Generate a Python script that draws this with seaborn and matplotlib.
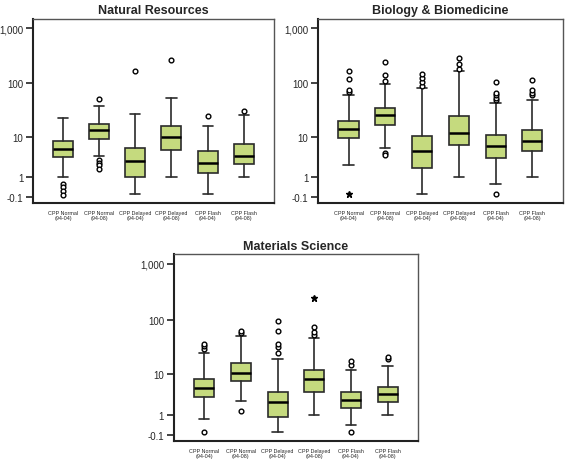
import numpy as np
import matplotlib
matplotlib.use('Agg')
import matplotlib.pyplot as plt
import seaborn as sns

# --- data (values on the original, untransformed scale) ---
categories = ['CPP Normal\n(94-04)', 'CPP Normal\n(94-08)', 'CPP Delayed\n(94-04)',
              'CPP Delayed\n(94-08)', 'CPP Flash\n(94-04)', 'CPP Flash\n(94-08)']

tick_values = [-0.1, 1, 10, 100, 1000]
tick_labels = ['-0.1', '1', '10', '100', '1,000']

# Natural Resources
nr_whislo = [1.0, 3.8, 0.0, 1.0, 0.0, 1.0]
nr_q1 = [3.7, 8.9, 1.0, 5.2, 1.45, 2.5]
nr_med = [5.6, 13.7, 3.0, 9.7, 2.7, 4.0]
nr_q3 = [8.0, 17.6, 5.7, 15.8, 5.0, 7.1]
nr_whishi = [22.5, 38, 27.5, 54, 16.3, 26.4]
nr_fliers = [[0.55, 0.32, 0.15, -0.02], [3.1, 2.7, 2.4, 1.9, 52], [166], [271], [24.5], [30.4]]
nr_extremes = [[], [], [], [], [], []]

# Biology & Biomedicine
bb_whislo = [2.4, 5.7, 0.0, 1.0, 0.52, 1.0]
bb_q1 = [9.3, 17.2, 2.0, 6.6, 3.6, 5.0]
bb_med = [13.8, 25.7, 5.0, 12.0, 6.3, 8.2]
bb_q3 = [20.1, 35.6, 10.5, 25.3, 10.7, 13.2]
bb_whishi = [62.5, 99, 82, 166, 43.4, 50.6]
bb_fliers = [[69, 76, 120, 170], [4.6, 4.2, 111, 142, 244], [90, 106, 124, 148],
             [183, 222, 296], [0.0, 50.6, 55, 61, 66, 106], [62, 68, 76, 115]]
bb_extremes = [[0.0], [], [], [], [], []]

# Materials Science
ms_whislo = [0.74, 2.56, 0.02, 1.0, 0.34, 1.0]
ms_q1 = [3.2, 7.1, 0.87, 4.15, 1.7, 2.4]
ms_med = [5.0, 10.4, 2.4, 7.7, 2.76, 3.7]
ms_q3 = [7.8, 16.3, 4.15, 11.6, 4.15, 5.4]
ms_whishi = [25, 50.6, 19.3, 45.4, 11.6, 14]
ms_fliers = [[0.02, 29.7, 33, 36], [1.39, 58, 62.5], [25, 32, 36, 61, 94],
             [52.8, 60, 73], [0.0, 14.5, 17.5], [18.8, 21]]
ms_extremes = [[], [], [], [246], [], []]

sns.set_style('white')
plt.rcParams['font.family'] = ['Liberation Sans', 'DejaVu Sans']

fig = plt.figure(figsize=(5.68, 4.60), dpi=100)

panels = [
    ('Natural Resources', [0.058, 0.5565, 0.424, 0.40],
     nr_whislo, nr_q1, nr_med, nr_q3, nr_whishi, nr_fliers, nr_extremes),
    ('Biology & Biomedicine', [0.560, 0.5565, 0.431, 0.40],
     bb_whislo, bb_q1, bb_med, bb_q3, bb_whishi, bb_fliers, bb_extremes),
    ('Materials Science', [0.306, 0.039, 0.430, 0.4065],
     ms_whislo, ms_q1, ms_med, ms_q3, ms_whishi, ms_fliers, ms_extremes),
]

box_color = '#c5da7e'
edge = '#2b2b2b'

for title, rect, wlo, q1, med, q3, whi, fl, ext in panels:
    ax = fig.add_axes(rect)
    ax.set_yscale('function', functions=(lambda y: np.log10(np.maximum(y + 1, 1e-6)),
                                         lambda y: 10 ** y - 1))
    stats = []
    for i in range(len(categories)):
        stats.append(dict(whislo=wlo[i], q1=q1[i], med=med[i], q3=q3[i],
                          whishi=whi[i], fliers=fl[i], label=categories[i]))
    pos = np.arange(len(categories))
    ax.bxp(stats, positions=pos, widths=0.55, patch_artist=True, showfliers=True,
           boxprops=dict(facecolor=box_color, edgecolor=edge, linewidth=1.2),
           medianprops=dict(color='black', linewidth=1.8),
           whiskerprops=dict(color=edge, linewidth=1.2),
           capprops=dict(color=edge, linewidth=1.2),
           capwidths=0.28,
           flierprops=dict(marker='o', markersize=3.4, markerfacecolor='white',
                           markeredgecolor='black', markeredgewidth=1.0))
    for i, vals in enumerate(ext):
        if vals:
            ax.plot([pos[i]] * len(vals), vals, linestyle='none', marker='*',
                    markersize=4.5, color='black')
    ax.set_xlim(-0.83, 5.83)
    ax.set_ylim(-0.31, 1480)
    ax.set_yticks(tick_values)
    ax.set_yticklabels(tick_labels)
    ax.yaxis.set_minor_locator(matplotlib.ticker.NullLocator())
    ax.set_xticks(pos)
    ax.set_xticklabels(categories, fontsize=3.9, linespacing=0.95)
    ax.tick_params(axis='x', length=0, pad=5)
    ax.tick_params(axis='y', length=5, width=1.2, color='#222222', labelsize=7, pad=2,
                   left=True, direction='out')
    for s in ['left', 'bottom']:
        ax.spines[s].set_color('#222222')
        ax.spines[s].set_linewidth(1.5)
    for s in ['top', 'right']:
        ax.spines[s].set_color('#555555')
        ax.spines[s].set_linewidth(1.0)
    ax.set_title(title, fontsize=9, fontweight='bold', pad=4)

fig.savefig('out.png', dpi=100)
